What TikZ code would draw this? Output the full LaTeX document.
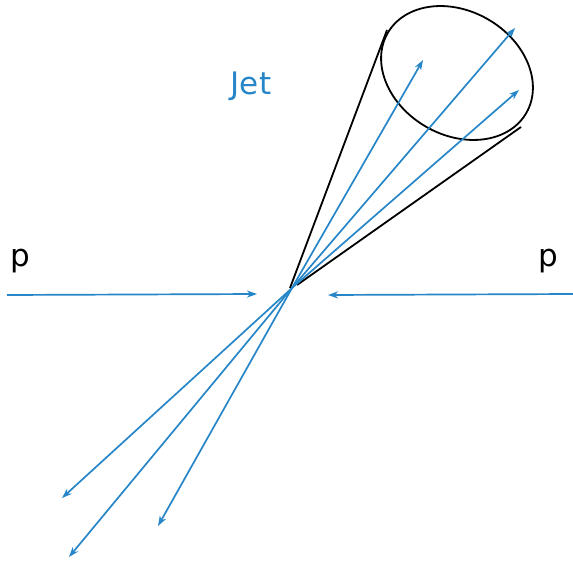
\documentclass[tikz,border=0pt]{standalone}
\usepackage{fontspec}
\setmainfont{DejaVu Sans}
\usetikzlibrary{arrows.meta,shapes.geometric}
\definecolor{jetblue}{RGB}{38,134,199}
\begin{document}
\begin{tikzpicture}[x=1pt,y=-1pt,
  track/.style={draw=jetblue,line width=1.7pt,-{Stealth[length=10pt,width=7pt,inset=3pt]}},
  conel/.style={draw=black,line width=1.8pt},
  lbl/.style={font=\fontsize{31}{37}\selectfont,inner sep=0pt,anchor=base}]
\useasboundingbox (0,0) rectangle (573,562);
\coordinate (c) at (292,288);
\coordinate (lin) at (7,295);
\coordinate (lend) at (257,294);
\coordinate (rin) at (573,294);
\coordinate (rend) at (328,295);
\coordinate (u1) at (423,60);
\coordinate (u2) at (515,28);
\coordinate (u3) at (519,90);
\coordinate (d1) at (62,498);
\coordinate (d2) at (69,557);
\coordinate (d3) at (158,526);
\coordinate (ca) at (290,288);
\coordinate (cb) at (297,285);
\coordinate (ea) at (387,30);
\coordinate (eb) at (521,127);
\node[draw,ellipse,line width=1.8pt,minimum width=160pt,minimum height=124pt,rotate=-30,inner sep=0pt] (jetell) at (457,73) {};
\draw[conel] (ca) -- (ea);
\draw[conel] (cb) -- (eb);
\draw[track] (lin) -- (lend);
\draw[track] (rin) -- (rend);
\draw[track] (c) -- (u1);
\draw[track] (c) -- (u2);
\draw[track] (c) -- (u3);
\draw[track] (c) -- (d1);
\draw[track] (c) -- (d2);
\draw[track] (c) -- (d3);
\node[lbl] (pl) at (20,266) {p};
\node[lbl] (pr) at (548,266) {p};
\node[lbl,text=jetblue] (jet) at (251,94) {Jet};
\end{tikzpicture}
\end{document}
